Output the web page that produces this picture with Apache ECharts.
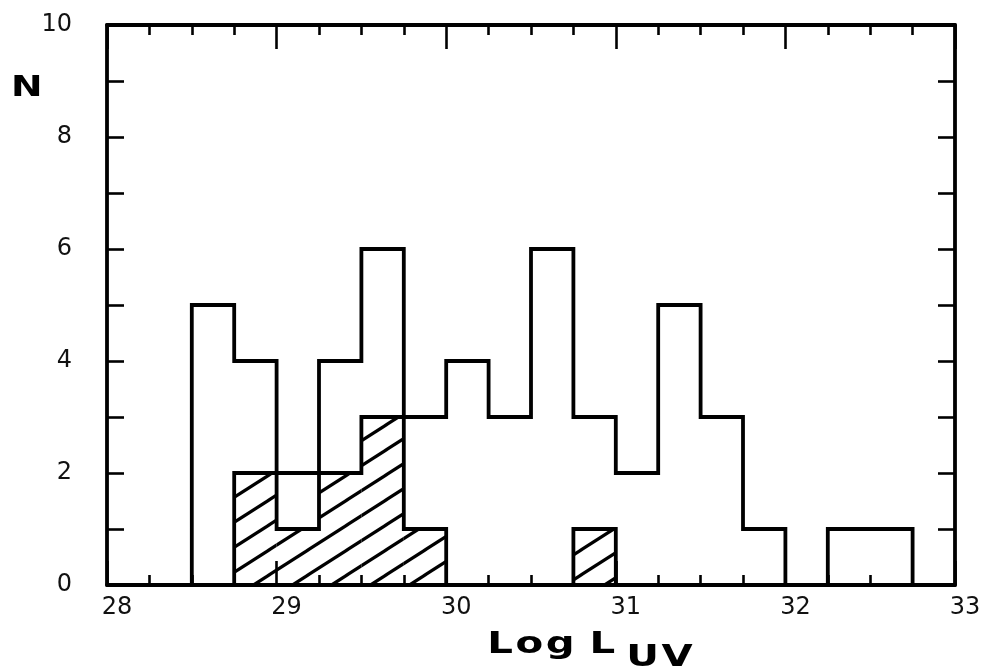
<!DOCTYPE html>
<html><head><meta charset="utf-8">
<script src="https://cdn.jsdelivr.net/npm/echarts@6/dist/echarts.min.js"></script>
<style>html,body{margin:0;padding:0;background:#fff}#c{width:987px;height:670px}</style>
</head><body><div id="c"></div>
<script>
// ---- data ----
const binWidth = 0.25;
const allStart = 28.5;
const allCounts = [5, 4, 1, 4, 6, 3, 4, 3, 6, 3, 2, 5, 3, 1, 0, 1, 1];
const subStart = 28.75;
const subCounts = [2, 2, 2, 3, 1, 0, 0, 0, 1];
const xRange = [28, 33];
const yRange = [0, 10];
const xTitle = 'Log L';
const xTitleSub = 'UV';
const yTitle = 'N';

// ---- derived ----
function outline(start, counts) {
  const pts = [[start, 0]];
  counts.forEach((c, i) => {
    const a = start + i * binWidth, b = a + binWidth;
    pts.push([a, c], [b, c]);
  });
  pts.push([start + counts.length * binWidth, 0]);
  return pts;
}
const hatchBins = subCounts.map((c, i) => {
  const x0 = subStart + i * binWidth;
  const j = Math.round((x0 - allStart) / binWidth);
  return [x0, x0 + binWidth, Math.min(c, allCounts[j] || 0)];
}).filter(d => d[2] > 0);

// hatch pattern tile
const tile = document.createElement('canvas');
tile.width = 39; tile.height = 25;
const g = tile.getContext('2d');
g.strokeStyle = '#000'; g.lineWidth = 3.2; g.lineCap = 'butt';
for (const dx of [-39, 0, 39]) {
  g.beginPath(); g.moveTo(dx - 39, 50); g.lineTo(dx + 78, -25); g.stroke();
}

const black = '#000';
function xAxisCfg(pos, showLabel) {
  return {
    type: 'value', position: pos, min: xRange[0], max: xRange[1], interval: 1,
    axisLine: { show: true, onZero: false, lineStyle: { color: black, width: 3.8 } },
    axisTick: { show: true, inside: true, length: 24, lineStyle: { color: black, width: 2.6 } },
    minorTick: { show: true, splitNumber: 4, length: 10, lineStyle: { color: black, width: 2.6 } },
    splitLine: { show: false }, minorSplitLine: { show: false },
    axisLabel: { show: showLabel, color: '#111', fontFamily: 'DejaVu Sans', fontSize: 24, margin: 11, padding: [0, 0, 0, 20] }
  };
}
function yAxisCfg(pos, showLabel) {
  return {
    type: 'value', position: pos, min: yRange[0], max: yRange[1], interval: 2,
    axisLine: { show: true, onZero: false, lineStyle: { color: black, width: 3.8 } },
    axisTick: { show: true, inside: true, length: 17, lineStyle: { color: black, width: 2.6 } },
    minorTick: { show: true, splitNumber: 2, length: 17, lineStyle: { color: black, width: 2.6 } },
    splitLine: { show: false }, minorSplitLine: { show: false },
    axisLabel: { show: showLabel, color: '#111', fontFamily: 'DejaVu Sans', fontSize: 24, margin: 35 }
  };
}

const chart = echarts.init(document.getElementById('c'), null, { renderer: 'canvas' });
const letter = { fontFamily: 'DejaVu Sans', fontWeight: 'bold', fontSize: 31, color: black, padding: [0, 1, 0, 1] };
chart.setOption({
  animation: false,
  backgroundColor: '#fff',
  grid: { left: 107, right: 32, top: 25, bottom: 85 },
  xAxis: [xAxisCfg('bottom', true), xAxisCfg('top', false)],
  yAxis: [yAxisCfg('left', true), yAxisCfg('right', false)],
  series: [
    {
      type: 'custom', xAxisIndex: 0, yAxisIndex: 0, z: 1,
      data: hatchBins,
      encode: { x: [0, 1], y: 2 },
      renderItem: function (params, api) {
        const p0 = api.coord([api.value(0), 0]);
        const p1 = api.coord([api.value(1), api.value(2)]);
        return {
          type: 'rect',
          shape: { x: p0[0], y: p1[1], width: p1[0] - p0[0], height: p0[1] - p1[1] },
          style: { fill: { image: tile, repeat: 'repeat', x: -4 }, stroke: null }
        };
      }
    },
    {
      type: 'line', xAxisIndex: 0, yAxisIndex: 0, z: 3,
      data: outline(allStart, allCounts), symbol: 'none', showSymbol: false,
      lineStyle: { color: black, width: 3.8, join: 'miter' }
    },
    {
      type: 'line', xAxisIndex: 0, yAxisIndex: 0, z: 3,
      data: outline(subStart, subCounts), symbol: 'none', showSymbol: false,
      lineStyle: { color: black, width: 3.8, join: 'miter' }
    }
  ],
  graphic: [
    { type: 'text', x: 11, y: 88, scaleX: 1.3,
      style: { text: yTitle, font: 'bold 29px "DejaVu Sans"', fill: black, verticalAlign: 'middle' } },
    { type: 'text', x: 486, y: 645, scaleX: 1.3,
      style: { text: xTitle.split('').map(ch => ch === ' ' ? '{s| }' : '{c|' + ch + '}').join(''),
               rich: { c: letter, s: { fontSize: 34 } }, verticalAlign: 'middle' } },
    { type: 'text', x: 625, y: 658, scaleX: 1.3,
      style: { text: xTitleSub.split('').map(ch => '{c|' + ch + '}').join(''),
               rich: { c: letter }, verticalAlign: 'middle' } }
  ]
});
</script>
</body></html>
